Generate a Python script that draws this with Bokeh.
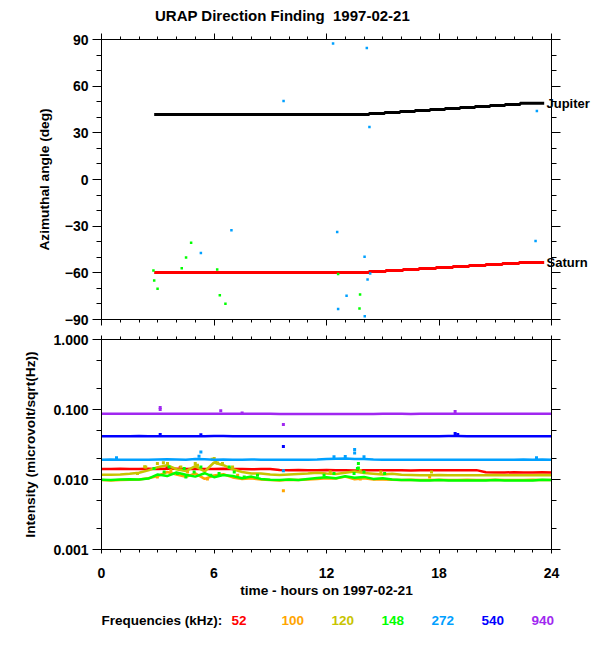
from bokeh.plotting import figure
from bokeh.layouts import column
from bokeh.models import (Range1d, FixedTicker, LinearAxis, LogAxis,
                          PrintfTickFormatter, CustomJSTickFormatter)
from bokeh.core.properties import value
from bokeh.embed import file_html
from bokeh.resources import INLINE

# ---------------- texts ----------------
TITLE = "URAP Direction Finding  1997-02-21"
X_LABEL = "time - hours on 1997-02-21"
Y1_LABEL = "Azimuthal angle (deg)"
Y2_LABEL = "Intensity (microvolt/sqrt(Hz))"
LEGEND_TITLE = "Frequencies (kHz):"
planet_names = ["Jupiter", "Saturn"]

# ---------------- ticks ----------------
x_ticks = [0, 6, 12, 18, 24]
x_minor = [0, 1, 2, 3, 4, 5, 6, 7, 8, 9, 10, 11, 12, 13, 14, 15, 16, 17, 18, 19, 20, 21, 22, 23, 24]
y1_ticks = [-90, -60, -30, 0, 30, 60, 90]
y1_minor = [-90, -80, -70, -60, -50, -40, -30, -20, -10, 0, 10, 20, 30, 40, 50, 60, 70, 80, 90]
y2_ticks = [0.001, 0.01, 0.1, 1.0]
y2_minor = [0.002, 0.005, 0.02, 0.05, 0.2, 0.5]

freq_labels = ["52", "100", "120", "148", "272", "540", "940"]
freq_colors = ["#ff0000", "#ffa500", "#c8c400", "#00ff00", "#00a0ff", "#0000ff", "#a028f0"]

# ---------------- top panel: planet directions ----------------
jup_t = [2.81, 14.27, 15.10, 15.92, 16.72, 17.52, 18.32, 19.12, 19.92, 20.72, 21.52, 22.33, 23.61]
jup_deg = [41.8, 42.4, 43.1, 43.7, 44.3, 45.0, 45.6, 46.3, 46.9, 47.6, 48.2, 49.0, 49.0]
sat_t = [2.81, 14.27, 15.16, 16.08, 16.93, 17.84, 18.74, 19.60, 20.49, 21.38, 22.27, 23.61]
sat_deg = [-59.8, -59.2, -58.5, -57.9, -57.2, -56.6, -56.0, -55.3, -54.7, -54.0, -53.4, -53.4]

# direction-finding points
df272_t = [12.35, 14.15, 9.71, 23.22, 14.29, 6.93, 12.57, 23.15, 5.30, 14.03, 14.33, 14.19, 13.07, 12.62, 14.04]
df272_deg = [87.4, 84.6, 50.5, 44.1, 33.8, -32.6, -33.7, -39.5, -47.2, -49.7, -60.4, -64.3, -74.8, -83.2, -87.9]
df148_t = [2.77, 2.81, 2.99, 4.78, 4.51, 4.28, 6.17, 6.31, 6.61, 12.62, 13.79, 13.76]
df148_deg = [-58.5, -65.0, -70.3, -40.7, -50.2, -57.0, -57.9, -74.4, -79.8, -60.7, -74.0, -83.0]

# ---------------- bottom panel: intensities ----------------
hours = [0.0, 0.5, 1.0, 1.5, 2.0, 2.5, 3.0, 3.5, 4.0, 4.5,
         5.0, 5.5, 6.0, 6.5, 7.0, 7.5, 8.0, 8.5, 9.0, 9.5,
         10.0, 10.5, 11.0, 11.5, 12.0, 12.5, 13.0, 13.5, 14.0, 14.5,
         15.0, 15.5, 16.0, 16.5, 17.0, 17.5, 18.0, 18.5, 19.0, 19.5,
         20.0, 20.5, 21.0, 21.5, 22.0, 22.5, 23.0, 23.5, 24.0]

i52 = [0.0141, 0.0141, 0.0142, 0.0141, 0.0141, 0.0142, 0.0141, 0.0142, 0.0143, 0.0141,
       0.0142, 0.0141, 0.0141, 0.0142, 0.0141, 0.0141, 0.0140, 0.0141, 0.0141, 0.0137,
       0.0136, 0.0137, 0.0136, 0.0136, 0.0137, 0.0136, 0.0136, 0.0135, 0.0136, 0.0136,
       0.0136, 0.0136, 0.0136, 0.0135, 0.0136, 0.0136, 0.0136, 0.0136, 0.0136, 0.0136,
       0.0136, 0.0127, 0.0126, 0.0126, 0.0127, 0.0126, 0.0126, 0.0127, 0.0126]
i100 = [0.0098, 0.0097, 0.0098, 0.0099, 0.0100, 0.0104, 0.0112, 0.0128, 0.0118, 0.0109,
        0.0122, 0.0102, 0.0114, 0.0119, 0.0107, 0.0102, 0.0104, 0.0100, 0.0098, 0.0097,
        0.0099, 0.0098, 0.0100, 0.0102, 0.0104, 0.0103, 0.0110, 0.0101, 0.0104, 0.0100,
        0.0100, 0.0099, 0.0098, 0.0099, 0.0098, 0.0098, 0.0099, 0.0098, 0.0098, 0.0099,
        0.0098, 0.0098, 0.0099, 0.0098, 0.0098, 0.0098, 0.0099, 0.0098, 0.0098]
i120 = [0.0117, 0.0117, 0.0118, 0.0121, 0.0125, 0.0135, 0.0150, 0.0160, 0.0140, 0.0132,
        0.0155, 0.0130, 0.0175, 0.0160, 0.0140, 0.0128, 0.0122, 0.0122, 0.0118, 0.0116,
        0.0118, 0.0120, 0.0122, 0.0125, 0.0122, 0.0120, 0.0125, 0.0130, 0.0124, 0.0121,
        0.0118, 0.0121, 0.0117, 0.0116, 0.0115, 0.0115, 0.0116, 0.0115, 0.0115, 0.0115,
        0.0115, 0.0115, 0.0116, 0.0115, 0.0115, 0.0115, 0.0115, 0.0116, 0.0115]
i148 = [0.0099, 0.0098, 0.0100, 0.0101, 0.0100, 0.0103, 0.0118, 0.0112, 0.0126, 0.0117,
        0.0110, 0.0123, 0.0108, 0.0116, 0.0112, 0.0104, 0.0110, 0.0102, 0.0099, 0.0098,
        0.0100, 0.0098, 0.0102, 0.0105, 0.0108, 0.0104, 0.0111, 0.0106, 0.0109, 0.0102,
        0.0104, 0.0100, 0.0098, 0.0098, 0.0097, 0.0097, 0.0098, 0.0097, 0.0097, 0.0097,
        0.0097, 0.0097, 0.0098, 0.0097, 0.0097, 0.0097, 0.0097, 0.0099, 0.0098]
i272 = [0.0192, 0.0193, 0.0192, 0.0192, 0.0191, 0.0192, 0.0193, 0.0194, 0.0193, 0.0192,
        0.0196, 0.0194, 0.0192, 0.0193, 0.0192, 0.0192, 0.0193, 0.0192, 0.0192, 0.0191,
        0.0192, 0.0192, 0.0192, 0.0193, 0.0196, 0.0198, 0.0200, 0.0197, 0.0196, 0.0193,
        0.0192, 0.0192, 0.0191, 0.0191, 0.0192, 0.0191, 0.0192, 0.0192, 0.0192, 0.0192,
        0.0191, 0.0192, 0.0192, 0.0192, 0.0192, 0.0193, 0.0192, 0.0193, 0.0192]
i540 = [0.0414, 0.0415, 0.0414, 0.0416, 0.0418, 0.0415, 0.0414, 0.0415, 0.0414, 0.0414,
        0.0415, 0.0416, 0.0418, 0.0417, 0.0416, 0.0414, 0.0415, 0.0414, 0.0414, 0.0414,
        0.0414, 0.0414, 0.0415, 0.0414, 0.0415, 0.0414, 0.0414, 0.0414, 0.0414, 0.0415,
        0.0414, 0.0414, 0.0414, 0.0414, 0.0414, 0.0414, 0.0414, 0.0417, 0.0418, 0.0415,
        0.0415, 0.0414, 0.0415, 0.0414, 0.0414, 0.0415, 0.0414, 0.0414, 0.0414]
i940 = [0.0866, 0.0866, 0.0868, 0.0866, 0.0866, 0.0867, 0.0868, 0.0866, 0.0866, 0.0866,
        0.0866, 0.0866, 0.0866, 0.0870, 0.0868, 0.0866, 0.0866, 0.0866, 0.0866, 0.0863,
        0.0862, 0.0862, 0.0862, 0.0862, 0.0863, 0.0864, 0.0863, 0.0862, 0.0864, 0.0865,
        0.0866, 0.0866, 0.0866, 0.0865, 0.0866, 0.0866, 0.0866, 0.0866, 0.0868, 0.0866,
        0.0866, 0.0866, 0.0866, 0.0866, 0.0866, 0.0866, 0.0866, 0.0866, 0.0866]

# isolated / scattered intensity points
s52_t = [3.5, 4.2]
s52_v = [0.0150, 0.0148]
s100_t = [9.7, 17.5, 2.98, 3.7, 4.59, 5.65, 7.26, 13.8]
s100_v = [0.0069, 0.0109, 0.0109, 0.0135, 0.0128, 0.0102, 0.0115, 0.0102]
s120_t = [2.3, 3.3, 5.0, 5.9, 6.1, 2.36, 2.98, 3.52, 4.23, 5.12, 6.01, 6.19, 6.45, 6.99, 1.92,
          12.2, 13.8, 14.9, 17.6]
s120_v = [0.0152, 0.0173, 0.0169, 0.0195, 0.0185, 0.0151, 0.0169, 0.0169, 0.0151, 0.0160, 0.0200,
          0.0172, 0.0169, 0.0151, 0.0122, 0.0128, 0.0135, 0.0128, 0.0128]
s148_t = [13.7, 13.7, 2.8, 3.34, 3.6, 4.05, 4.41, 4.5, 4.94, 5.3, 5.83, 6.27, 6.81, 7.08, 7.61, 8.32,
          11.87, 12.4, 13.47, 13.65, 14.0, 15.1]
s148_v = [0.0169, 0.0146, 0.0144, 0.0128, 0.0151, 0.0122, 0.0144, 0.0109, 0.0128, 0.0151, 0.0115,
          0.0122, 0.0151, 0.0128, 0.0109, 0.0115, 0.0115, 0.0122, 0.0122, 0.0144, 0.0128, 0.0122]
s272_t = [0.8, 5.2, 5.3, 9.7, 12.4, 13.0, 13.5, 13.5, 14.0, 23.2]
s272_v = [0.0205, 0.0215, 0.0248, 0.0133, 0.0212, 0.0213, 0.0268, 0.0240, 0.0212, 0.0205]
s540_t = [3.13, 5.3, 9.7, 18.86, 19.0]
s540_v = [0.0440, 0.0435, 0.0297, 0.0455, 0.0440]
s940_t = [3.13, 3.13, 6.36, 9.7, 18.86, 7.5]
s940_v = [0.100, 0.107, 0.0957, 0.0610, 0.094, 0.089]

series = [i52, i100, i120, i148, i272, i540, i940]
spikes_t = [s52_t, s100_t, s120_t, s148_t, s272_t, s540_t, s940_t]
spikes_v = [s52_v, s100_v, s120_v, s148_v, s272_v, s540_v, s940_v]

# ---------------- layout constants (px) ----------------
FONT = "Liberation Sans"
WEIGHT = "bold"
BORDER_L = 101
BORDER_R = 41
FRAME_W = 450
TOTAL_W = BORDER_L + FRAME_W + BORDER_R
H1_FRAME = 280
H2_FRAME = 210
HEAD_H = 32
FOOT_H = 30
HOURS_PER_PX = 24.0 / FRAME_W

BLANK = CustomJSTickFormatter(code="return ''")


def style_axis(ax, major_out, minor_out, show_labels=True):
    ax.axis_line_color = "black"
    ax.axis_line_width = 1
    ax.major_tick_line_color = "black"
    ax.minor_tick_line_color = "black"
    ax.major_tick_in = 0
    ax.minor_tick_in = 0
    ax.major_tick_out = major_out
    ax.minor_tick_out = minor_out
    ax.major_label_text_font = FONT
    ax.major_label_text_font_style = WEIGHT
    ax.major_label_text_color = "black"
    ax.major_label_text_font_size = "14px"
    ax.axis_label_text_font = FONT
    ax.axis_label_text_font_size = "13.7px"
    ax.axis_label_text_font_style = WEIGHT
    ax.axis_label_text_color = "black"
    if not show_labels:
        ax.formatter = BLANK
        ax.major_label_standoff = 0


def base_fig(y_range, frame_h, top, bottom, y_type="linear"):
    p = figure(x_range=Range1d(0, 24), y_range=y_range, y_axis_type=y_type,
               frame_width=FRAME_W, frame_height=frame_h,
               min_border_left=BORDER_L, min_border_right=BORDER_R,
               min_border_top=top, min_border_bottom=bottom,
               output_backend="svg", toolbar_location=None,
               background_fill_color="white", border_fill_color="white",
               outline_line_color="black")
    p.xgrid.visible = False
    p.ygrid.visible = False
    return p


def text_strip(height):
    # a bare strip whose x axis is in hours, aligned with the plot frames
    p = figure(x_range=Range1d(-BORDER_L * HOURS_PER_PX, (FRAME_W + BORDER_R) * HOURS_PER_PX),
               y_range=Range1d(0, height),
               frame_width=TOTAL_W, frame_height=height, min_border=0,
               x_axis_location=None, y_axis_location=None,
               output_backend="svg", toolbar_location=None,
               background_fill_color="white", border_fill_color="white",
               outline_line_color=None)
    p.frame_align = False
    p.xgrid.visible = False
    p.ygrid.visible = False
    return p


# ================= header (title) =================
p0 = text_strip(HEAD_H)
p0.text(x=[181 * HOURS_PER_PX], y=[HEAD_H - 15], text=[TITLE.replace("  ", "\u00a0 ")],
        text_font=value(FONT), text_font_size="15px", text_font_style=WEIGHT,
        text_color="black", text_align="center", text_baseline="middle")

# ================= top figure =================
p1 = base_fig(Range1d(-90, 90), H1_FRAME, 7, 10)
p1.xaxis.ticker = FixedTicker(ticks=x_ticks, minor_ticks=x_minor)
style_axis(p1.xaxis[0], 6, 3, show_labels=False)
p1.yaxis.ticker = FixedTicker(ticks=y1_ticks, minor_ticks=y1_minor)
style_axis(p1.yaxis[0], 9, 5)
p1.yaxis.major_label_standoff = 4
p1.yaxis.axis_label = Y1_LABEL
p1.yaxis.axis_label_standoff = 10

ax_r1 = LinearAxis(ticker=FixedTicker(ticks=y1_ticks, minor_ticks=y1_minor))
style_axis(ax_r1, 9, 5, show_labels=False)
p1.add_layout(ax_r1, "right")

# planet names next to the ends of their tracks
ax_names = LinearAxis(ticker=FixedTicker(ticks=[jup_deg[-1], sat_deg[-1]], minor_ticks=[]))
ax_names.formatter = CustomJSTickFormatter(
    args=dict(vals=[jup_deg[-1], sat_deg[-1]], names=planet_names),
    code="""
    let best = 0;
    for (let i = 1; i < vals.length; i++) {
        if (Math.abs(vals[i] - tick) < Math.abs(vals[best] - tick)) best = i;
    }
    return names[best];
    """)
ax_names.axis_line_color = None
ax_names.major_tick_line_color = None
ax_names.minor_tick_line_color = None
ax_names.major_tick_out = 0
ax_names.major_tick_in = 0
ax_names.major_label_standoff = -14
ax_names.major_label_text_font = FONT
ax_names.major_label_text_font_style = WEIGHT
ax_names.major_label_text_font_size = "13px"
ax_names.major_label_text_color = "black"
p1.add_layout(ax_names, "right")

ax_t1 = LinearAxis(ticker=FixedTicker(ticks=x_ticks, minor_ticks=x_minor))
style_axis(ax_t1, 6, 3, show_labels=False)
p1.add_layout(ax_t1, "above")

p1.step(jup_t, jup_deg, mode="after", line_color="black", line_width=3)
p1.step(sat_t, sat_deg, mode="after", line_color=freq_colors[0], line_width=3)
p1.scatter(df148_t, df148_deg, marker="square", size=2.5, color=freq_colors[3], line_color=None)
p1.scatter(df272_t, df272_deg, marker="square", size=2.5, color=freq_colors[4], line_color=None)

# ================= bottom figure =================
p2 = base_fig(Range1d(0.001, 1.0), H2_FRAME, 10, 56, y_type="log")
p2.xaxis.ticker = FixedTicker(ticks=x_ticks, minor_ticks=x_minor)
style_axis(p2.xaxis[0], 4, 3)
p2.xaxis.major_label_standoff = 14
p2.xaxis.axis_label = X_LABEL
p2.xaxis.axis_label_standoff = 2
p2.yaxis.ticker = FixedTicker(ticks=y2_ticks, minor_ticks=y2_minor)
p2.yaxis.formatter = PrintfTickFormatter(format="%.3f")
style_axis(p2.yaxis[0], 9, 5)
p2.yaxis.major_label_standoff = 4
p2.yaxis.axis_label = Y2_LABEL
p2.yaxis.axis_label_standoff = 12

ax_r2 = LogAxis(ticker=FixedTicker(ticks=y2_ticks, minor_ticks=y2_minor))
style_axis(ax_r2, 9, 5, show_labels=False)
p2.add_layout(ax_r2, "right")
ax_t2 = LinearAxis(ticker=FixedTicker(ticks=x_ticks, minor_ticks=x_minor))
style_axis(ax_t2, 4, 3, show_labels=False)
p2.add_layout(ax_t2, "above")

for vals, st, sv, col in zip(series, spikes_t, spikes_v, freq_colors):
    p2.line(hours, vals, line_color=col, line_width=2.5)
    p2.scatter(st, sv, marker="square", size=3, color=col, line_color=None)

# ================= footer (frequency legend) =================
p3 = text_strip(FOOT_H)
p3.text(x=[0], y=[FOOT_H / 2], text=[LEGEND_TITLE], text_font=value(FONT),
        text_font_size="13.5px", text_font_style=WEIGHT, text_color="black",
        text_align="left", text_baseline="middle")
leg_x = [(130 + 50 * k) * HOURS_PER_PX for k in range(len(freq_labels))]
p3.text(x=leg_x, y=[FOOT_H / 2] * len(freq_labels), text=freq_labels,
        text_font=value(FONT), text_font_size="13.5px", text_font_style=WEIGHT,
        text_color=freq_colors, text_align="left", text_baseline="middle")

layout = column(p0, p1, p2, p3, spacing=0)
open("out.html", "w").write(file_html(layout, INLINE))
